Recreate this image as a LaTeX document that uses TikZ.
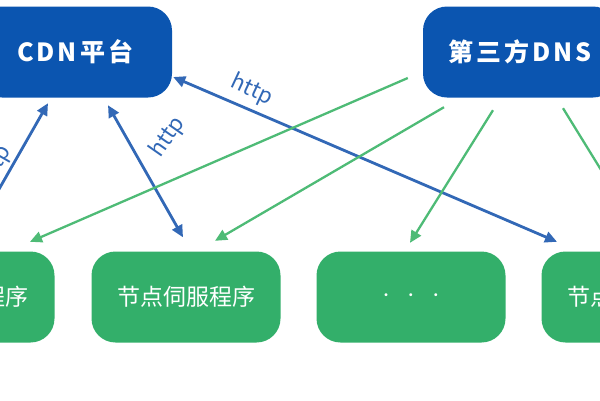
\documentclass[tikz,border=0pt]{standalone}
\usepackage{fontspec}
\newfontfamily\cjk{Noto Sans CJK SC}
\usetikzlibrary{arrows.meta}
\definecolor{cdnblue}{RGB}{11,85,176}
\definecolor{linkblue}{RGB}{50,104,182}
\definecolor{srvgreen}{RGB}{51,175,106}
\definecolor{dnsgreen}{RGB}{78,187,118}
\begin{document}
\begin{tikzpicture}[x=1pt, y=-1pt,
  topbox/.style={fill=cdnblue, text=white, rounded corners=24pt,
    minimum width=194pt, minimum height=91pt,
    font=\cjk\bfseries\fontsize{25}{30}\selectfont\addfontfeature{LetterSpace=12}},
  srvbox/.style={fill=srvgreen, text=white, rounded corners=24pt,
    minimum width=189pt, minimum height=91pt,
    font=\cjk\fontsize{23}{27}\selectfont},
  link/.style={draw=linkblue, line width=2.8pt,
    {Triangle[length=12pt,width=11pt]}-{Triangle[length=12pt,width=11pt]}},
  dnslink/.style={draw=dnsgreen, line width=2.3pt,
    -{Triangle[length=12pt,width=11pt]}},
  proto/.style={text=linkblue, inner sep=0pt,
    font=\cjk\fontsize{22}{26}\selectfont}]
  \useasboundingbox (0,0) rectangle (600,400);
  \clip (0,0) rectangle (600,400);

  % Top row
  \node[topbox] (cdn) at (75,52) {CDN平台};
  \node[topbox] (dns) at (520,52) {第三方DNS};

  % Bottom row
  \node[srvbox] (srvA) at (-40,297) {节点伺服程序};
  \node[srvbox] (srvB) at (186,297) {节点伺服程序};
  \node[srvbox, font=\cjk\fontsize{14}{16}\selectfont] (srvC) at (411,297)
    {·\hspace{11pt}·\hspace{11pt}·};
  \node[srvbox] (srvD) at (636,297) {节点伺服程序};

  % http links
  \draw[link] ([xshift=7pt,yshift=6pt]srvA.north) -- ([xshift=-27pt,yshift=-5.5pt]cdn.south);
  \draw[link] ([xshift=33pt,yshift=-7.5pt]cdn.south) -- ([xshift=-3pt,yshift=14pt]srvB.north);
  \draw[link] ([xshift=1pt,yshift=-25pt]cdn.east) -- ([xshift=-79pt,yshift=9.5pt]srvD.north);

  \node[proto, rotate=60] (httpA) at (-5,166) {http};
  \node[proto, rotate=55] (httpB) at (168,137) {http};
  \node[proto, rotate=-25] (httpC) at (252,90) {http};

  % DNS links
  \draw[dnslink] ([xshift=-15pt,yshift=-26pt]dns.west) -- ([xshift=70pt,yshift=9.5pt]srvA.north);
  \draw[dnslink] ([xshift=-76pt,yshift=-9.5pt]dns.south) -- ([xshift=29pt,yshift=10.5pt]srvB.north);
  \draw[dnslink] ([xshift=-27pt,yshift=-12.5pt]dns.south) -- ([xshift=-1pt,yshift=8.5pt]srvC.north);
  \draw[dnslink] ([xshift=43pt,yshift=-10.5pt]dns.south) -- ([xshift=10pt,yshift=8.5pt]srvD.north);
\end{tikzpicture}
\end{document}
